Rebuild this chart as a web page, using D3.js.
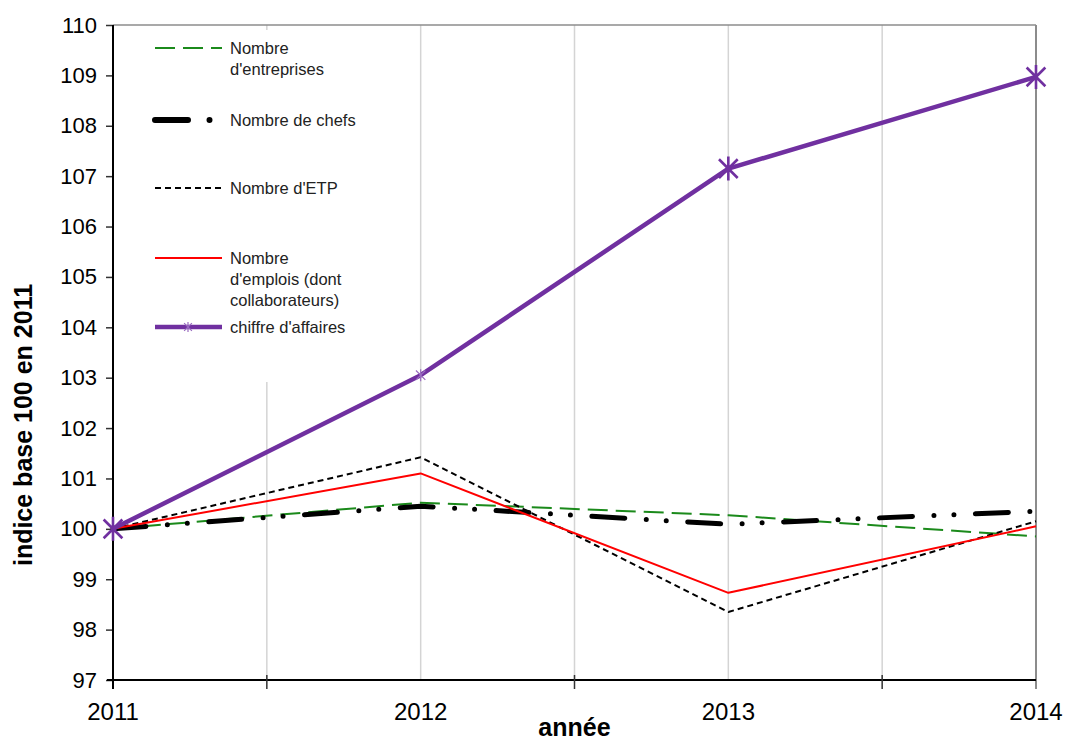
<!DOCTYPE html>
<html><head><meta charset="utf-8">
<script src="https://cdn.jsdelivr.net/npm/d3@7"></script>
<style>body{margin:0;background:#fff}svg{display:block;font-family:"Liberation Sans",Arial,sans-serif}</style>
</head><body><svg id="c" width="1070" height="741"></svg>
<script>
const years = [2011, 2012, 2013, 2014];
const entreprises = [100, 100.52, 100.27, 99.85];
const chefs = [100, 100.45, 100.09, 100.35];
const etp = [100, 101.42, 98.35, 100.15];
const emplois = [100, 101.1, 98.73, 100.05];
const chiffre = [100, 103.05, 107.15, 108.97];
const yTicks = d3.range(97, 111, 1);
const seriesNames = ["Nombre\nd'entreprises", "Nombre de chefs", "Nombre d'ETP", "Nombre\nd'emplois (dont\ncollaborateurs)", "chiffre d'affaires"];

const svg = d3.select("#c");
const x = d3.scaleLinear().domain([2011, 2014]).range([113, 1036]);
const y = d3.scaleLinear().domain([97, 110]).range([680, 25]);

// vertical grid lines
const gridX = [2011.5, 2012, 2012.5, 2013, 2013.5];
svg.append("g").selectAll("line").data(gridX).join("line")
  .attr("x1", d => x(d)).attr("x2", d => x(d)).attr("y1", y(110)).attr("y2", y(97))
  .attr("stroke", "#d4d4d4").attr("stroke-width", 1.5);
// top and right border
svg.append("line").attr("x1", x(2011)).attr("x2", x(2014)).attr("y1", y(110)).attr("y2", y(110)).attr("stroke", "#8c8c8c").attr("stroke-width", 1.5);
svg.append("line").attr("x1", x(2014)).attr("x2", x(2014)).attr("y1", y(110)).attr("y2", y(97) + 9).attr("stroke", "#8c8c8c").attr("stroke-width", 2);

// Y axis
const yAxis = svg.append("g").attr("transform", `translate(${x(2011)},0)`)
  .call(d3.axisLeft(y).tickValues(yTicks).tickSize(7).tickPadding(9).tickFormat(d3.format("d")));
yAxis.select(".domain").remove();
yAxis.append("line").attr("x1", 0).attr("x2", 0).attr("y1", y(110)).attr("y2", y(97) + 9).attr("stroke", "#000").attr("stroke-width", 2);
yAxis.selectAll(".tick line").attr("stroke", "#333").attr("stroke-width", 1.5);
yAxis.selectAll(".tick text").attr("font-size", 22).attr("fill", "#000").attr("font-family", "Liberation Sans, Arial, sans-serif");

// X axis
const xAxisG = svg.append("g").attr("transform", `translate(0,${y(97)})`);
xAxisG.append("line").attr("x1", x(2011) - 6).attr("x2", x(2014)).attr("y1", 0).attr("y2", 0).attr("stroke", "#000").attr("stroke-width", 2);
xAxisG.selectAll(".mt").data([2011.5, 2012.5, 2013.5]).join("line").attr("class", "mt")
  .attr("x1", d => x(d)).attr("x2", d => x(d)).attr("y1", -5).attr("y2", 9).attr("stroke", "#333").attr("stroke-width", 1.5);
xAxisG.selectAll(".yl").data(years).join("text").attr("class", "yl")
  .attr("x", d => x(d)).attr("y", 40).attr("text-anchor", "middle").attr("font-size", 24).text(d => d);

// Axis titles
svg.append("text").attr("x", x(2012.5)).attr("y", 736).attr("text-anchor", "middle")
  .attr("font-size", 25).attr("font-weight", "bold").text("année");
svg.append("text").attr("transform", `translate(32,425) rotate(-90)`)
  .attr("text-anchor", "middle").attr("font-size", 25).attr("font-weight", "bold").text("indice base 100 en 2011");

// legend background
svg.append("rect").attr("x", 142).attr("y", 30).attr("width", 225).attr("height", 352).attr("fill", "#fff");

const styles = [
  {data: entreprises, color: "#1b8a1b", width: 2, dash: "20,8", cap: "butt"},
  {data: chefs, color: "#000", width: 5, dash: "33,21.5,0,20,0,21.5", cap: "round"},
  {data: etp, color: "#000", width: 2, dash: "6,4", cap: "butt"},
  {data: emplois, color: "#ff0000", width: 2, dash: null, cap: "butt"},
  {data: chiffre, color: "#7030a0", width: 4.5, dash: null, cap: "butt"}
];
const line = d3.line().x((d, i) => x(years[i])).y(d => y(d));
styles.forEach(s => {
  svg.append("path").datum(s.data).attr("d", line).attr("fill", "none")
    .attr("stroke", s.color).attr("stroke-width", s.width)
    .attr("stroke-dasharray", s.dash).attr("stroke-linecap", s.cap).attr("stroke-linejoin", "round");
});

function star(g, cx, cy, r, w, color) {
  const d = r * 0.78;
  g.append("path").attr("d", `M${cx - d},${cy - d}L${cx + d},${cy + d}M${cx - d},${cy + d}L${cx + d},${cy - d}M${cx},${cy - r}L${cx},${cy + r}`)
    .attr("stroke", color).attr("stroke-width", w).attr("fill", "none");
}
const mk = svg.append("g");
chiffre.forEach((v, i) => {
  if (i === 1) star(mk, x(years[i]), y(v), 6, 1.2, "#9a6cc0");
  else star(mk, x(years[i]), y(v), 12, 2.6, "#7030a0");
});

// legend
const legY = [48, 120, 188, 258, 327];
const lg = svg.append("g").attr("font-size", 16.5).attr("fill", "#222");
styles.forEach((s, i) => {
  lg.append("line").attr("x1", 155).attr("x2", 222).attr("y1", legY[i]).attr("y2", legY[i])
    .attr("stroke", s.color).attr("stroke-width", i === 1 ? 6 : s.width).attr("stroke-dasharray", s.dash)
    .attr("stroke-linecap", i === 1 ? "round" : "butt");
  const lines = seriesNames[i].split("\n");
  lines.forEach((t, j) => {
    lg.append("text").attr("x", 230).attr("y", legY[i] + 6 + j * 21).text(t);
  });
});
star(lg, 188, legY[4], 5, 1.2, "#9a6cc0");
</script></body></html>
